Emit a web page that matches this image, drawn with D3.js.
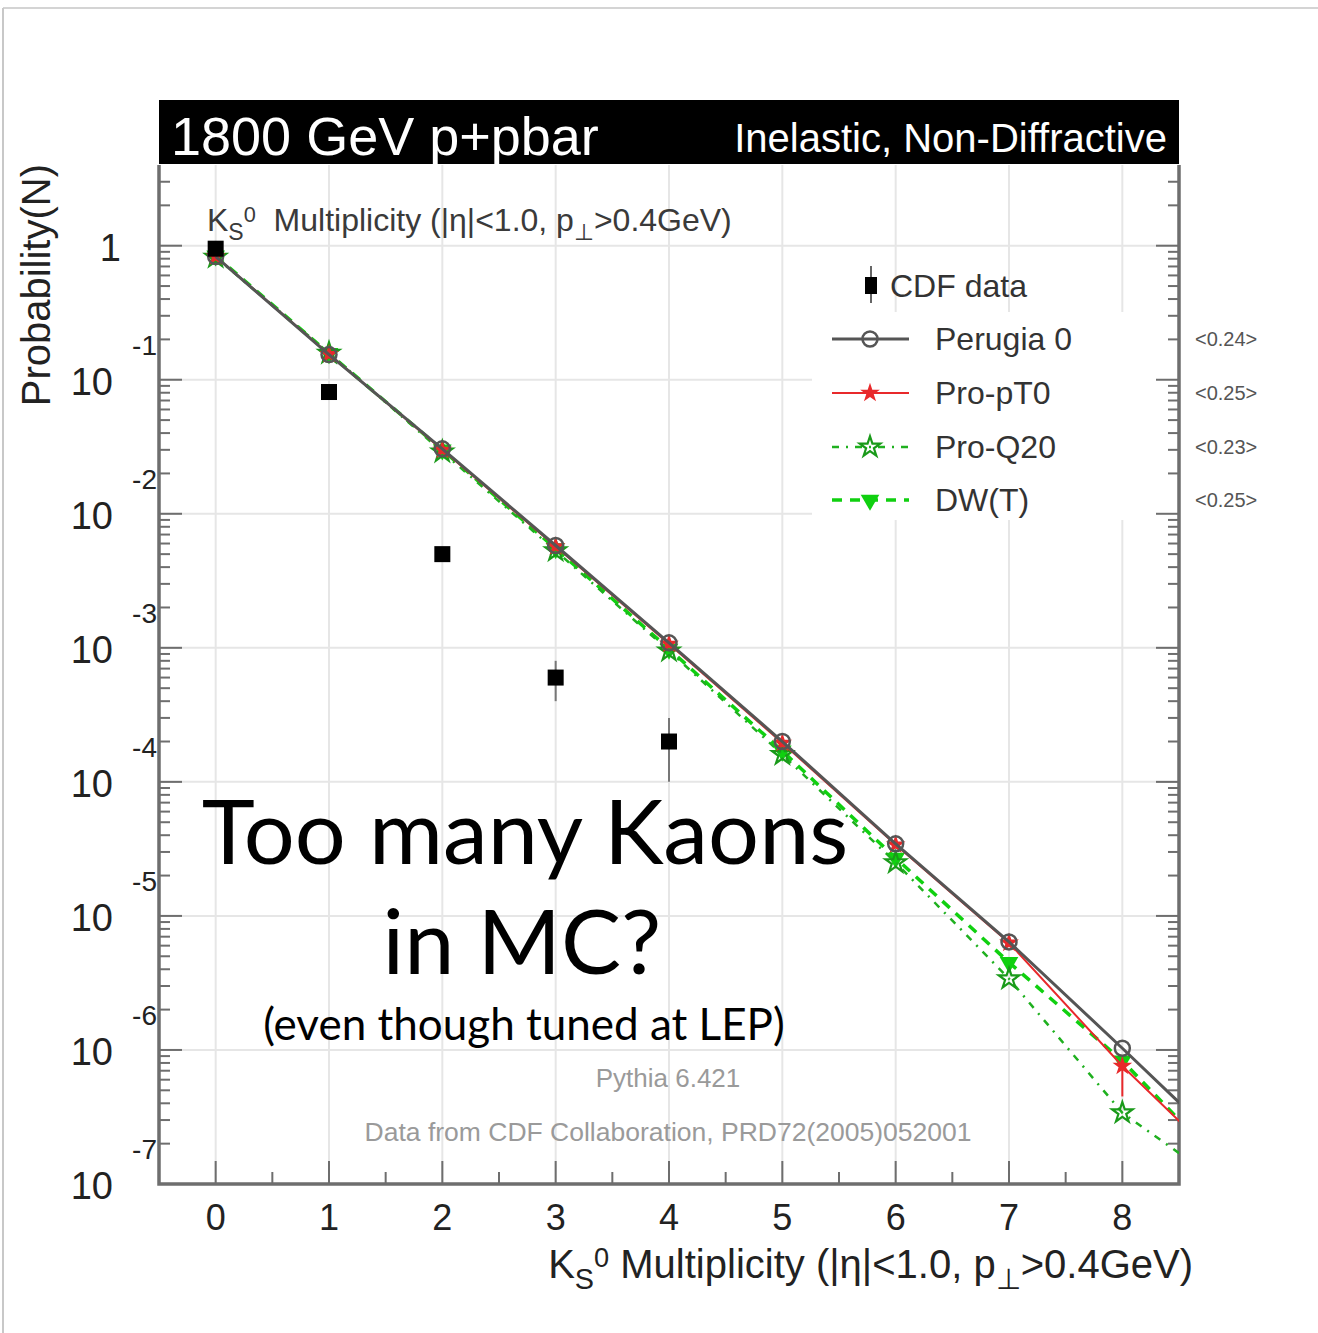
<!DOCTYPE html>
<html>
<head>
<meta charset="utf-8">
<script src="https://cdn.jsdelivr.net/npm/d3@7"></script>
<style>
  html, body { margin: 0; padding: 0; background: #fff; }
  svg { display: block; }
  text { font-family: "Liberation Sans", Arial, sans-serif; }
  text.note { font-family: Lato, "Open Sans", sans-serif; }
</style>
</head>
<body>
<svg id="chart" width="1318" height="1333"></svg>
<script>
// K_S^0 multiplicity, 1800 GeV p+pbar, inelastic non-diffractive
const multiplicity = [0, 1, 2, 3, 4, 5, 6, 7, 8, 9];

// CDF measurement (N = 0..4) with uncertainties
const cdfN    = [0, 1, 2, 3, 4];
const cdfProb = [0.95, 0.081, 0.0050, 6.0e-4, 2.0e-4];
const cdfErr  = [0.01, 0.003, 0.0003, 2.0e-4, 1.0e-4];

// Pythia 6.421 tunes
const perugia0 = [0.83, 0.154, 0.0305, 5.8e-3, 1.09e-3, 2.0e-4, 3.45e-5, 6.4e-6, 1.03e-6, 1.6e-7];
const proPT0   = [0.83, 0.155, 0.0300, 5.7e-3, 1.07e-3, 1.95e-4, 3.4e-5, 6.3e-6, 7.6e-7, 1.15e-7];
const proQ20   = [0.82, 0.158, 0.0290, 5.3e-3, 9.5e-4, 1.6e-4, 2.5e-5, 3.4e-6, 3.4e-7, 8.5e-8];
const dwT      = [0.84, 0.157, 0.0300, 5.5e-3, 9.8e-4, 1.7e-4, 2.7e-5, 4.5e-6, 8.3e-7, 1.1e-7];
const proPT0ErrLow = [0, 0, 0, 0, 0, 0, 0, 0, 3.1e-7, 0];

const meanValues = ["<0.24>", "<0.25>", "<0.23>", "<0.25>"];
const xTicks = [0, 1, 2, 3, 4, 5, 6, 7, 8];
const yDecades = [0, -1, -2, -3, -4, -5, -6, -7];

const svg = d3.select("#chart");

// plot frame geometry
const L = 159, R = 1179, T = 165, B = 1184;
const x = d3.scaleLinear().domain([-0.5, 8.5]).range([L, R]);
const y = d3.scaleLog().domain([1e-7, 4]).range([B, T]);

// outer page border
svg.append("line").attr("x1", 3).attr("x2", 1318).attr("y1", 8).attr("y2", 8)
  .attr("stroke", "#d4d4d4").attr("stroke-width", 2);
svg.append("line").attr("x1", 3).attr("x2", 3).attr("y1", 8).attr("y2", 1333)
  .attr("stroke", "#c8c8c8").attr("stroke-width", 2);

// clip region for the data
svg.append("clipPath").attr("id", "plotclip")
  .append("rect").attr("x", L).attr("y", T).attr("width", R - L).attr("height", B - T);

// grid
const grid = svg.append("g");
grid.selectAll("line.vx").data(xTicks).join("line")
  .attr("x1", d => x(d)).attr("x2", d => x(d)).attr("y1", T).attr("y2", B)
  .attr("stroke", "#e6e6e6").attr("stroke-width", 2);
grid.selectAll("line.hy").data(yDecades).join("line")
  .attr("x1", L).attr("x2", R).attr("y1", d => y(Math.pow(10, d))).attr("y2", d => y(Math.pow(10, d)))
  .attr("stroke", "#e6e6e6").attr("stroke-width", 2);

// legend background hides the grid behind the entries
svg.append("rect").attr("x", 812).attr("y", 312).attr("width", R - 812 - 2).attr("height", 208)
  .attr("fill", "#fff");

// axes ticks (ROOT style: ticks drawn inward)
const axisColor = "#6e6e6e";
const ticks = svg.append("g").attr("stroke", axisColor).attr("stroke-width", 2);
const xMinor = d3.range(-0.5, 8.51, 0.5).filter(v => Math.abs(v - Math.round(v)) > 0.1);
ticks.selectAll("line.xM").data(xTicks).join("line")
  .attr("x1", d => x(d)).attr("x2", d => x(d)).attr("y1", B).attr("y2", B - 23);
ticks.selectAll("line.xm").data(xMinor).join("line")
  .attr("x1", d => x(d)).attr("x2", d => x(d)).attr("y1", B).attr("y2", B - 12);

const yMinorVals = [];
for (let e = -7; e <= 0; e++) {
  for (let k = 2; k <= 9; k++) {
    const v = k * Math.pow(10, e);
    if (v < 4) yMinorVals.push(v);
  }
}
[[L, 1], [R, -1]].forEach(([ax, dir]) => {
  ticks.selectAll(null).data(yDecades).join("line")
    .attr("x1", ax).attr("x2", ax + dir * 23)
    .attr("y1", d => y(Math.pow(10, d))).attr("y2", d => y(Math.pow(10, d)));
  ticks.selectAll(null).data(yMinorVals).join("line")
    .attr("x1", ax).attr("x2", ax + dir * 11)
    .attr("y1", d => y(d)).attr("y2", d => y(d));
});

// frame
svg.append("path")
  .attr("d", `M${L},${T}V${B}H${R}V${T}`)
  .attr("fill", "none").attr("stroke", axisColor).attr("stroke-width", 3.5);

// header bar
svg.append("rect").attr("x", L).attr("y", 100).attr("width", R - L).attr("height", 64).attr("fill", "#000");
svg.append("text").attr("x", 171).attr("y", 155).attr("fill", "#fff")
  .attr("font-size", 54).text("1800 GeV p+pbar");
svg.append("text").attr("x", 1167).attr("y", 152).attr("fill", "#fff")
  .attr("font-size", 40).attr("text-anchor", "end").text("Inelastic, Non-Diffractive");

// x tick labels
svg.append("g").selectAll("text").data(xTicks).join("text")
  .attr("x", d => x(d)).attr("y", 1230).attr("text-anchor", "middle")
  .attr("font-size", 36).attr("fill", "#222").text(d => d);

// y tick labels
const yl = svg.append("g").attr("fill", "#222");
yDecades.forEach(d => {
  const py = y(Math.pow(10, d));
  if (d === 0) {
    yl.append("text").attr("x", 121).attr("y", py + 15).attr("text-anchor", "end")
      .attr("font-size", 38).text("1");
  } else {
    yl.append("text").attr("x", 113).attr("y", py + 15).attr("text-anchor", "end")
      .attr("font-size", 38).text("10");
    yl.append("text").attr("x", 157).attr("y", py - 25).attr("text-anchor", "end")
      .attr("font-size", 28).text(String(d));
  }
});

// axis titles
svg.append("text").attr("transform", "translate(50,164) rotate(-90)")
  .attr("text-anchor", "end").attr("font-size", 40).attr("fill", "#222")
  .text("Probability(N)");

function multiplicityTitle(sel, fs, gap) {
  sel.append("tspan").text("K");
  sel.append("tspan").attr("font-size", fs * 0.72).attr("dy", fs * 0.28).text("S");
  sel.append("tspan").attr("font-size", fs * 0.68).attr("dy", -fs * 0.56).text("0");
  sel.append("tspan").attr("dy", fs * 0.28).text(gap + "Multiplicity (|η|<1.0, p");
  sel.append("tspan").attr("font-size", fs * 0.72).attr("dy", fs * 0.28).text("⊥");
  sel.append("tspan").attr("dy", -fs * 0.28).text(">0.4GeV)");
}
const xTitle = svg.append("text").attr("x", 1193).attr("y", 1278).attr("text-anchor", "end")
  .attr("font-size", 40).attr("fill", "#222").style("white-space", "pre");
multiplicityTitle(xTitle, 40, " ");

const innerTitle = svg.append("text").attr("x", 207).attr("y", 231)
  .attr("font-size", 32).attr("fill", "#3a3a3a").style("white-space", "pre");
multiplicityTitle(innerTitle, 32, "  ");

// MC curves
const series = [
  { name: "Perugia 0", values: perugia0, color: "#555555", width: 3, dash: null, marker: "circle" },
  { name: "Pro-pT0",   values: proPT0,   color: "#e8292b", width: 2, dash: null, marker: "star" },
  { name: "Pro-Q20",   values: proQ20,   color: "#1fb01f", width: 2.5, dash: "7,7,2,7", marker: "starOpen" },
  { name: "DW(T)",     values: dwT,      color: "#10d010", width: 3.5, dash: "10,8", marker: "tri" }
];

const plot = svg.append("g").attr("clip-path", "url(#plotclip)");
const line = d3.line().x(d => x(d[0])).y(d => y(d[1]));

const starPath = d3.symbol().type(d3.symbolStar);
const triPath = d3.symbol().type(d3.symbolTriangle);

function drawMarker(g, kind, cx, cy, color) {
  if (kind === "circle") {
    g.append("circle").attr("cx", cx).attr("cy", cy).attr("r", 7.5)
      .attr("fill", "none").attr("stroke", color).attr("stroke-width", 2.5);
  } else if (kind === "star") {
    g.append("path").attr("d", starPath.size(120)()).attr("transform", `translate(${cx},${cy})`)
      .attr("fill", color);
  } else if (kind === "starOpen") {
    g.append("path").attr("d", starPath.size(130)()).attr("transform", `translate(${cx},${cy})`)
      .attr("fill", "none").attr("stroke", "#1a9a1a").attr("stroke-width", 2.2);
  } else if (kind === "tri") {
    g.append("path").attr("d", triPath.size(150)()).attr("transform", `translate(${cx},${cy}) rotate(180)`)
      .attr("fill", color);
  }
}

// draw order: greens first, then red, then black on top
[series[3], series[2], series[1], series[0]].forEach(s => {
  const pts = multiplicity.map((n, i) => [n, s.values[i]]);
  plot.append("path").datum(pts).attr("d", line)
    .attr("fill", "none").attr("stroke", s.color).attr("stroke-width", s.width)
    .attr("stroke-dasharray", s.dash);
  if (s.name === "Pro-pT0") {
    multiplicity.forEach((n, i) => {
      if (proPT0ErrLow[i] > 0) {
        plot.append("line").attr("x1", x(n)).attr("x2", x(n))
          .attr("y1", y(s.values[i])).attr("y2", y(s.values[i] - proPT0ErrLow[i]))
          .attr("stroke", s.color).attr("stroke-width", 2);
      }
    });
  }
  pts.forEach(p => drawMarker(plot, s.marker, x(p[0]), y(p[1]), s.color));
});

// CDF data with error bars
const cdf = plot.append("g");
cdfN.forEach((n, i) => {
  cdf.append("line").attr("x1", x(n)).attr("x2", x(n))
    .attr("y1", y(cdfProb[i] + cdfErr[i])).attr("y2", y(cdfProb[i] - cdfErr[i]))
    .attr("stroke", "#777").attr("stroke-width", 2);
  cdf.append("rect").attr("x", x(n) - 8).attr("y", y(cdfProb[i]) - 8)
    .attr("width", 16).attr("height", 16).attr("fill", "#000");
});

// legend
const lg = svg.append("g");
lg.append("line").attr("x1", 871).attr("x2", 871).attr("y1", 266).attr("y2", 303)
  .attr("stroke", "#666").attr("stroke-width", 2);
lg.append("rect").attr("x", 865).attr("y", 277).attr("width", 12).attr("height", 17).attr("fill", "#000");
lg.append("text").attr("x", 890).attr("y", 297).attr("font-size", 32).attr("fill", "#333").text("CDF data");

const legendY = [339, 393, 447, 500];
series.forEach((s, i) => {
  const ly = legendY[i];
  lg.append("line").attr("x1", 832).attr("x2", 909).attr("y1", ly).attr("y2", ly)
    .attr("stroke", s.color).attr("stroke-width", s.width).attr("stroke-dasharray", s.dash);
  drawMarker(lg, s.marker, 870, ly, s.color);
  lg.append("text").attr("x", 935).attr("y", ly + 11).attr("font-size", 32).attr("fill", "#333").text(s.name);
  svg.append("text").attr("x", 1195).attr("y", ly + 7).attr("font-size", 20).attr("fill", "#555")
    .text(meanValues[i]);
});

// generator / data source notes
svg.append("text").attr("x", 668).attr("y", 1087).attr("text-anchor", "middle")
  .attr("font-size", 26).attr("fill", "#9a9a9a").text("Pythia 6.421");
svg.append("text").attr("x", 668).attr("y", 1141).attr("text-anchor", "middle")
  .attr("font-size", 26.5).attr("fill", "#9a9a9a").text("Data from CDF Collaboration, PRD72(2005)052001");

// commentary
const note = svg.append("g").attr("fill", "#000").attr("text-anchor", "middle");
note.append("text").attr("class", "note").attr("x", 525).attr("y", 864).attr("font-size", 90).text("Too many Kaons");
note.append("text").attr("class", "note").attr("x", 522).attr("y", 974).attr("font-size", 90).text("in MC?");
note.append("text").attr("class", "note").attr("x", 524).attr("y", 1040).attr("font-size", 44).text("(even though tuned at LEP)");
</script>
</body>
</html>
